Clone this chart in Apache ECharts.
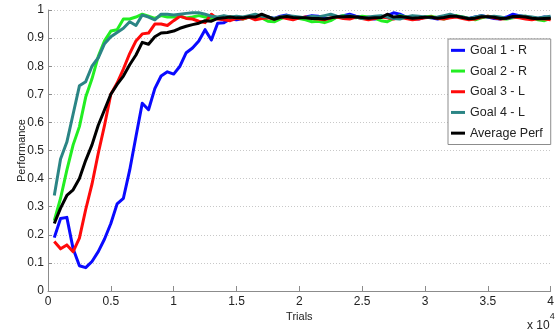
<!DOCTYPE html>
<html>
<head>
<meta charset="utf-8">
<script src="https://cdn.jsdelivr.net/npm/echarts@6/dist/echarts.min.js"></script>
<style>
  html, body { margin: 0; padding: 0; background: #fff; }
  #chart { width: 557px; height: 330px; }
</style>
</head>
<body>
<div id="chart"></div>
<script>
// Trial counts at which performance was sampled
const trials = [
  500, 1000, 1500, 2000, 2500, 3000, 3500, 4000, 4500, 5000,
  5500, 6000, 6500, 7000, 7500, 8000, 8500, 9000, 9500, 10000,
  10500, 11000, 11500, 12000, 12500, 13000, 13500, 14000, 14500, 15000,
  15500, 16000, 16500, 17000, 17500, 18000, 18500, 19000, 19500, 20000,
  20500, 21000, 21500, 22000, 22500, 23000, 23500, 24000, 24500, 25000,
  25500, 26000, 26500, 27000, 27500, 28000, 28500, 29000, 29500, 30000,
  30500, 31000, 31500, 32000, 32500, 33000, 33500, 34000, 34500, 35000,
  35500, 36000, 36500, 37000, 37500, 38000, 38500, 39000, 39500, 40000
];

const goal1R = [
  0.19, 0.258, 0.262, 0.15, 0.09, 0.083, 0.105, 0.14, 0.185, 0.24,
  0.31, 0.33, 0.43, 0.55, 0.668, 0.645, 0.72, 0.765, 0.78, 0.772,
  0.80, 0.848, 0.865, 0.89, 0.93, 0.893, 0.953, 0.955, 0.968, 0.965,
  0.97, 0.975, 0.972, 0.98, 0.975, 0.97, 0.978, 0.982, 0.975, 0.97,
  0.975, 0.98, 0.978, 0.972, 0.968, 0.975, 0.98, 0.985, 0.978, 0.975,
  0.97, 0.968, 0.975, 0.98, 0.99, 0.985, 0.975, 0.97, 0.968, 0.975,
  0.972, 0.968, 0.975, 0.98, 0.978, 0.972, 0.97, 0.975, 0.98, 0.975,
  0.97, 0.968, 0.975, 0.985, 0.98, 0.975, 0.972, 0.97, 0.975, 0.972
];

const goal2R = [
  0.25, 0.33, 0.43, 0.52, 0.585, 0.69, 0.755, 0.835, 0.89, 0.925,
  0.93, 0.968, 0.968, 0.975, 0.985, 0.978, 0.97, 0.98, 0.975, 0.975,
  0.978, 0.972, 0.975, 0.98, 0.975, 0.97, 0.972, 0.968, 0.975, 0.972,
  0.968, 0.975, 0.98, 0.972, 0.96, 0.958, 0.968, 0.978, 0.975, 0.97,
  0.965, 0.958, 0.96, 0.955, 0.962, 0.975, 0.98, 0.975, 0.972, 0.978,
  0.975, 0.97, 0.962, 0.958, 0.97, 0.98, 0.975, 0.968, 0.972, 0.975,
  0.978, 0.972, 0.968, 0.975, 0.98, 0.975, 0.97, 0.965, 0.972, 0.978,
  0.975, 0.97, 0.968, 0.972, 0.975, 0.978, 0.972, 0.965, 0.962, 0.97
];

const goal3L = [
  0.176, 0.15, 0.164, 0.14, 0.188, 0.29, 0.38, 0.49, 0.59, 0.70,
  0.74, 0.79, 0.845, 0.89, 0.915, 0.918, 0.95, 0.95, 0.945, 0.962,
  0.978, 0.97, 0.968, 0.96, 0.955, 0.985, 0.968, 0.965, 0.962, 0.97,
  0.968, 0.975, 0.965, 0.97, 0.972, 0.968, 0.975, 0.97, 0.965, 0.972,
  0.975, 0.97, 0.968, 0.965, 0.972, 0.975, 0.97, 0.968, 0.975, 0.97,
  0.965, 0.97, 0.975, 0.972, 0.968, 0.975, 0.97, 0.965, 0.968, 0.972,
  0.975, 0.97, 0.968, 0.972, 0.975, 0.97, 0.965, 0.968, 0.975, 0.978,
  0.972, 0.968, 0.97, 0.975, 0.972, 0.968, 0.965, 0.97, 0.968, 0.965
];

const goal4L = [
  0.34, 0.47, 0.53, 0.63, 0.73, 0.745, 0.80, 0.83, 0.88, 0.905,
  0.92, 0.935, 0.958, 0.945, 0.982, 0.975, 0.965, 0.985, 0.985, 0.982,
  0.985, 0.988, 0.99, 0.99, 0.985, 0.978, 0.975, 0.98, 0.975, 0.978,
  0.975, 0.98, 0.985, 0.978, 0.975, 0.97, 0.975, 0.98, 0.978, 0.975,
  0.972, 0.978, 0.975, 0.98, 0.985, 0.978, 0.975, 0.98, 0.975, 0.97,
  0.975, 0.978, 0.98, 0.975, 0.97, 0.968, 0.975, 0.98, 0.978, 0.975,
  0.972, 0.975, 0.98, 0.985, 0.978, 0.975, 0.97, 0.975, 0.98, 0.975,
  0.978, 0.975, 0.97, 0.975, 0.98, 0.978, 0.975, 0.972, 0.975, 0.978
];

const averagePerf = [
  0.24, 0.295, 0.34, 0.36, 0.40, 0.465, 0.52, 0.59, 0.645, 0.70,
  0.735, 0.765, 0.805, 0.84, 0.885, 0.878, 0.905, 0.918, 0.92, 0.925,
  0.935, 0.942, 0.948, 0.953, 0.962, 0.96, 0.97, 0.972, 0.975, 0.972,
  0.972, 0.976, 0.975, 0.985, 0.976, 0.967, 0.974, 0.977, 0.973, 0.972,
  0.972, 0.97, 0.97, 0.968, 0.972, 0.976, 0.976, 0.977, 0.975, 0.973,
  0.971, 0.972, 0.973, 0.985, 0.975, 0.977, 0.974, 0.971, 0.972, 0.974,
  0.974, 0.971, 0.973, 0.978, 0.978, 0.973, 0.969, 0.971, 0.976, 0.976,
  0.974, 0.97, 0.971, 0.977, 0.977, 0.975, 0.971, 0.969, 0.97, 0.971
];

const seriesDefs = [
  { name: 'Goal 1 - R', values: goal1R, color: '#0a0aff' },
  { name: 'Goal 2 - R', values: goal2R, color: '#22ee22' },
  { name: 'Goal 3 - L', values: goal3L, color: '#ff0a0a' },
  { name: 'Goal 4 - L', values: goal4L, color: '#2b8585' },
  { name: 'Average Perf', values: averagePerf, color: '#000000' }
];

const xTickLabels = ['0', '0.5', '1', '1.5', '2', '2.5', '3', '3.5', '4'];
const yTickLabels = ['0', '0.1', '0.2', '0.3', '0.4', '0.5', '0.6', '0.7', '0.8', '0.9', '1'];

const FONT = '"Liberation Sans", Arial, Helvetica, sans-serif';
const chart = echarts.init(document.getElementById('chart'), null, { renderer: 'canvas' });

chart.setOption({
  animation: false,
  backgroundColor: '#ffffff',
  textStyle: { fontFamily: FONT },
  grid: { left: 48, right: 3, top: 10, bottom: 39, containLabel: false },
  xAxis: {
    type: 'value',
    min: 0, max: 40000, interval: 5000,
    name: 'Trials',
    nameLocation: 'middle',
    nameGap: 20,
    nameMoveOverlap: false,
    nameTextStyle: { fontSize: 11, color: '#222', fontFamily: FONT },
    axisLine: { show: true, lineStyle: { color: '#8c8c8c', width: 1 } },
    axisTick: { show: true, inside: true, length: 5, lineStyle: { color: '#8c8c8c' } },
    axisLabel: {
      margin: 5, fontSize: 12, color: '#222', fontFamily: FONT,
      formatter: v => xTickLabels[Math.round(v / 5000)]
    },
    splitLine: { show: false }
  },
  yAxis: {
    type: 'value',
    min: 0, max: 1, interval: 0.1,
    name: 'Performance',
    nameLocation: 'middle',
    nameGap: 21,
    nameMoveOverlap: false,
    nameTextStyle: { fontSize: 11, color: '#222', fontFamily: FONT },
    axisLine: { show: true, lineStyle: { color: '#8c8c8c', width: 1 } },
    axisTick: { show: true, inside: true, length: 4, lineStyle: { color: '#8c8c8c' } },
    axisLabel: {
      margin: 4, fontSize: 12, color: '#222', fontFamily: FONT,
      formatter: v => yTickLabels[Math.round(v * 10)]
    },
    splitLine: { show: true, lineStyle: { color: '#c8c8c8', type: [1, 2], width: 1 } }
  },
  legend: {
    orient: 'vertical',
    left: 448, top: 39,
    backgroundColor: '#ffffff',
    borderColor: '#8c8c8c', borderWidth: 1, borderRadius: 0,
    padding: [4, 8, 4, 3],
    itemGap: 6,
    itemWidth: 14, itemHeight: 3,
    icon: 'rect',
    textStyle: { fontSize: 12.5, color: '#222', lineHeight: 14.7, fontFamily: FONT },
    data: seriesDefs.map(s => s.name)
  },
  graphic: [{
    type: 'text',
    left: 527, top: 312,
    style: {
      text: '{b|x 10}{s|4}',
      rich: {
        b: { fontSize: 12, fill: '#222', fontFamily: FONT, verticalAlign: 'bottom', padding: [8, 0, 0, 0] },
        s: { fontSize: 9, fill: '#222', fontFamily: FONT, verticalAlign: 'top' }
      }
    }
  }],
  series: seriesDefs.map(s => ({
    name: s.name,
    type: 'line',
    data: trials.map((t, i) => [t, s.values[i]]),
    showSymbol: false,
    symbol: 'none',
    lineStyle: { color: s.color, width: 3, join: 'round' },
    itemStyle: { color: s.color },
    smooth: false
  }))
});
</script>
</body>
</html>
